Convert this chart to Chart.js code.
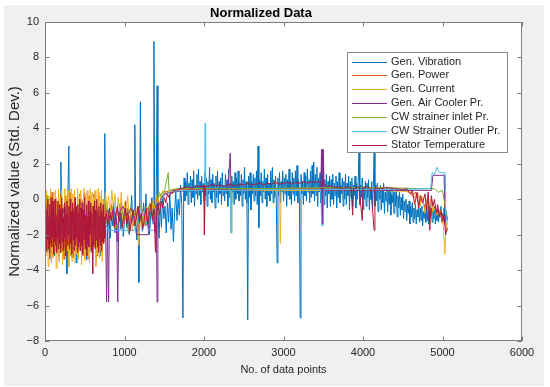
<!DOCTYPE html>
<html>
<head>
<meta charset="utf-8">
<title>Normalized Data</title>
<script src="https://cdn.jsdelivr.net/npm/chart.js@4/dist/chart.umd.min.js"></script>
<style>
  html, body { margin: 0; padding: 0; background: #fff; }
  #wrap { width: 550px; height: 387px; }
</style>
</head>
<body>
<div id="wrap"><canvas id="chart" width="550" height="387"></canvas></div>
<script>
// [data point no., normalized value]
const vibration = [
  [0,-2.2],[15,-0.5],[30,-3.0],[45,-1.0],[60,-3.4],[75,-0.3],[90,-2.6],[105,-1.4],[120,-3.2],[135,-0.6],
  [150,-2.8],[165,-1.1],[180,-3.5],[195,-0.2],[200,2.1],[210,-1.8],[225,-3.0],[240,-0.7],[255,-2.5],[270,-1.2],
  [275,-4.2],[285,-0.4],[300,3.0],[310,-2.9],[325,-1.0],[340,-3.3],[355,-0.5],[370,-2.4],[385,-1.3],[400,-3.6],
  [415,-0.8],[430,-2.7],[445,-1.5],[460,-3.1],[475,-0.3],[490,-2.2],[505,-1.1],[520,-3.4],[535,-0.6],[550,-2.6],
  [565,-1.7],[580,-3.0],[595,-0.4],[610,-2.3],[625,-1.2],[640,-3.5],[655,-0.7],[670,-2.8],[685,-1.4],[700,-3.2],
  [715,-0.5],[730,-2.1],[745,-0.9],[752,3.7],[760,-1.6],[775,-0.4],[790,-1.8],[805,-0.6],[820,-2.2],[835,-0.9],
  [850,-1.5],[865,-0.2],[880,-1.9],[895,-0.8],[910,-2.4],[925,-1.0],[940,-0.3],[955,-1.7],[970,-0.7],[985,-2.1],
  [1000,-1.2],[1015,-0.1],[1030,-1.6],[1045,-0.5],[1060,-2.0],[1075,-0.9],[1090,0.2],[1105,-1.4],[1120,-0.6],[1130,4.2],
  [1140,-1.1],[1155,-2.3],[1170,-0.4],[1180,-4.7],[1190,-1.0],[1200,5.5],[1210,-0.7],[1225,-1.8],[1240,-0.2],[1255,-1.3],
  [1270,0.3],[1285,-1.5],[1300,-0.5],[1315,-2.0],[1330,-0.8],[1345,0.1],[1360,-1.4],[1370,8.9],[1380,-0.9],[1395,-1.9],
  [1410,6.4],[1420,-0.6],[1435,-2.2],[1450,-0.3],[1465,-1.6],[1480,0.2],[1495,-1.1],[1510,-0.4],[1525,-1.9],[1540,-0.2],
  [1555,-1.3],[1570,0.3],[1585,-1.7],[1600,-0.5],[1615,-2.4],[1630,-0.7],[1645,0.4],[1660,-1.2],[1675,0.0],[1690,-0.9],
  [1705,0.8],[1720,-0.3],[1735,-6.7],[1745,0.5],
  [1750,1.2],[1760,-0.1],[1770,1.0],[1780,0.2],[1790,1.5],[1800,-0.3],[1810,0.9],[1820,0.4],[1830,1.3],[1840,-0.2],
  [1850,1.1],[1860,0.1],[1870,1.6],[1880,-0.4],[1890,0.8],[1900,0.3],[1910,1.4],[1920,0.0],[1930,1.7],[1940,0.2],
  [1950,1.0],[1960,-0.3],[1970,1.3],[1980,0.4],[1990,0.9],[2000,-0.1],[2010,1.5],[2020,0.2],[2030,1.2],[2040,-0.4],
  [2050,1.0],[2060,0.3],[2070,1.8],[2080,0.0],[2090,1.1],[2100,-0.2],[2110,1.4],[2120,0.4],[2130,0.9],[2140,-0.5],
  [2150,1.3],[2160,0.1],[2170,1.6],[2180,-0.2],[2190,1.0],[2200,0.3],[2210,1.2],[2220,-0.3],[2230,1.5],[2240,0.2],
  [2250,0.8],[2260,-0.1],[2270,1.4],[2280,0.3],[2290,1.1],[2300,-0.4],[2310,1.7],[2320,0.1],[2330,0.9],[2340,-0.2],
  [2350,1.3],[2360,0.4],[2370,1.0],[2380,-0.3],[2390,1.5],[2400,0.0],[2410,1.2],[2420,0.3],[2430,1.6],[2440,-0.1],
  [2450,0.9],[2460,0.2],[2470,1.4],[2480,-0.4],[2490,1.1],[2500,0.3],[2510,1.8],[2520,0.0],[2530,1.0],[2540,-0.2],
  [2550,-6.8],[2560,1.3],[2570,0.1],[2580,1.5],[2590,-0.6],[2600,1.0],[2610,0.3],[2620,1.4],[2630,-0.1],[2640,1.2],
  [2650,0.2],[2660,1.6],[2670,-0.3],[2680,3.0],[2690,-1.6],[2700,1.1],[2710,0.2],[2720,1.5],[2730,-0.2],[2740,1.0],
  [2750,0.4],[2760,1.7],[2770,0.0],[2780,1.2],[2790,-0.4],[2800,1.4],[2810,0.2],[2820,0.9],[2830,-0.1],[2840,1.6],
  [2850,0.3],[2860,1.8],[2870,-0.2],[2880,1.1],[2890,0.1],[2900,1.3],[2910,-0.3],[2920,-3.6],[2930,1.2],[2940,0.2],
  [2950,1.5],[2960,-0.2],[2970,1.0],[2980,0.4],[2990,1.6],[3000,-0.1],[3010,1.2],[3020,0.3],[3030,1.4],[3040,-0.4],
  [3050,1.1],[3060,0.2],[3070,1.7],[3080,0.0],[3090,1.0],[3100,-0.3],[3110,1.5],[3120,0.3],[3130,1.2],[3140,-0.1],
  [3150,1.6],[3160,0.2],[3170,1.9],[3180,-0.2],[3190,1.1],[3200,0.1],[3210,-6.7],[3220,1.4],[3230,0.3],[3240,1.0],
  [3250,-0.3],[3260,1.5],[3270,0.2],[3280,1.3],[3290,-0.1],[3300,1.7],[3310,0.4],[3320,1.1],[3330,-0.2],[3340,1.6],
  [3350,0.1],[3360,1.9],[3370,0.3],[3380,2.1],[3390,-0.1],[3400,1.4],[3410,0.2],[3420,1.8],[3430,-0.4],[3440,1.2],
  [3450,0.4],[3460,1.5],[3470,-0.2],[3480,1.3],[3490,0.1],[3500,1.6],[3510,-0.3],[3520,1.1],[3530,0.2],[3540,1.4],
  [3550,-0.5],[3560,1.0],[3570,0.3],[3580,1.3],[3590,-0.4],[3600,1.1],[3610,0.0],[3620,1.4],[3630,-0.3],[3640,0.9],
  [3650,0.2],[3660,1.3],[3670,-0.5],[3680,1.0],[3690,0.1],[3700,1.5],[3710,-0.2],[3720,0.8],[3730,0.3],[3740,1.2],
  [3750,-0.4],[3760,1.0],[3770,0.0],[3780,1.4],[3790,-0.3],[3800,0.9],[3810,0.2],[3820,1.3],[3830,-0.6],[3840,1.0],
  [3850,0.1],[3860,1.2],[3870,-0.4],[3880,0.8],[3890,0.2],[3900,1.3],[3910,-0.5],[3920,0.9],[3930,0.0],[3940,1.1],
  [3950,2.7],[3960,-0.3],[3970,0.8],[3980,0.1],[3990,1.2],[4000,-0.6],[4010,0.7],[4020,0.0],[4030,1.0],[4040,-0.4],
  [4050,0.9],[4060,0.1],[4070,1.1],[4080,-0.6],[4090,0.6],[4100,0.0],[4110,1.0],[4120,-0.5],[4130,0.7],[4140,2.7],
  [4150,-0.4],[4160,0.8],[4170,-0.1],[4180,0.9],[4190,-0.7],[4200,0.5],[4210,0.0],[4220,0.8],[4230,-0.6],[4240,0.6],
  [4250,-0.2],[4260,0.9],[4270,-0.8],[4280,0.4],[4290,-0.1],[4300,0.7],[4310,-0.7],[4320,0.5],[4330,-0.3],[4340,0.6],
  [4350,-0.9],[4360,0.3],[4370,-0.2],[4380,0.5],[4390,-0.8],[4400,0.4],[4410,-0.4],[4420,0.6],[4430,-1.0],[4440,0.2],
  [4450,-0.5],[4460,0.4],[4470,-0.9],[4480,0.1],[4490,-0.6],[4500,0.3],[4510,-1.1],[4520,-0.1],[4530,-0.7],[4540,0.0],
  [4550,-1.2],[4560,-0.3],[4570,-0.8],[4580,-0.1],[4590,-1.4],[4600,-0.4],[4610,-1.0],[4620,-0.2],[4630,-1.3],[4640,-0.5],
  [4650,-1.1],[4660,-0.3],[4670,-1.4],[4680,-0.6],[4690,-1.0],[4700,-0.2],[4710,-1.3],[4720,-0.5],[4730,-1.2],[4740,-0.4],
  [4750,-1.5],[4760,-0.7],[4770,-1.1],[4780,-0.3],[4790,-1.3],[4800,-0.6],[4810,-1.2],[4820,-0.4],[4830,-1.4],[4840,-0.7],
  [4850,-1.0],[4860,-0.5],[4870,-1.3],[4880,-0.6],[4890,-1.1],[4900,-0.4],[4910,-1.4],[4920,-0.8],[4930,-1.2],[4940,-0.5],
  [4950,-1.3],[4960,-0.7],[4970,-1.0],[4980,-0.4],[4990,-1.3],[5000,-0.8],[5010,-1.2],[5020,-0.5],[5030,-1.4],[5040,-0.9],
  [5050,-1.2],[5060,-1.0]
];

const power = [
  [0,-0.5],[15,-3.0],[30,0.2],[45,-2.4],[60,-0.3],[75,-3.3],[90,0.4],[105,-1.8],[120,-3.1],[135,0.1],
  [150,-2.7],[165,-0.6],[180,-3.2],[195,0.3],[210,-2.2],[225,-0.8],[240,-3.4],[255,0.2],[270,-2.6],[285,-0.2],
  [300,-3.0],[315,0.4],[330,-2.3],[345,-0.7],[360,-3.3],[375,0.1],[390,-2.8],[405,-0.4],[420,-3.1],[435,0.3],
  [450,-2.5],[465,-0.1],[480,-3.2],[495,0.4],[510,-2.1],[525,-0.9],[540,-3.4],[555,0.2],[570,-2.7],[585,-0.5],
  [600,-3.0],[615,0.3],[630,-2.4],[645,-0.2],[660,-3.2],[675,0.4],[690,-2.6],[705,-0.6],[720,-3.0],[735,0.0],
  [750,-1.8],[780,-0.5],[810,-1.3],[840,-0.3],[870,-1.6],[900,-0.6],[930,-1.1],[960,-0.2],[990,-1.4],[1020,-0.7],
  [1050,-1.9],[1080,-0.9],[1110,-1.5],[1140,-0.5],[1170,-1.7],[1200,-1.2],[1230,-0.6],[1260,-1.5],[1290,-0.8],[1320,-0.2],
  [1350,-1.0],[1380,-0.4],[1410,0.1],[1440,-0.3],[1470,0.3],[1500,0.4],[1600,0.5],[1800,0.55],[2200,0.55],[2600,0.6],
  [3000,0.6],[3400,0.6],[3800,0.55],[4200,0.55],[4550,0.5],[4620,0.2],[4660,0.4],[4700,-0.3],[4740,0.1],[4780,-0.5],
  [4820,-0.2],[4860,-0.8],[4900,-0.4],[4940,-0.9],[4980,-0.6],[5010,-1.2],[5040,-1.6],[5060,-1.4]
];

const current = [
  [0,0.3],[10,-3.2],[20,0.5],[30,-2.0],[40,-3.8],[50,0.2],[60,-3.0],[70,0.6],[80,-3.6],[90,-0.5],
  [100,-3.3],[110,0.4],[120,-2.6],[130,0.5],[140,-3.9],[150,-0.2],[160,-3.1],[170,0.6],[180,-3.5],[190,0.1],
  [200,-2.8],[210,0.5],[220,-3.7],[230,-0.3],[240,-3.0],[250,0.6],[260,-3.4],[270,0.2],[280,-2.9],[290,0.5],
  [300,-3.8],[310,-0.1],[320,-3.2],[330,0.6],[340,-3.5],[350,0.3],[360,-2.7],[370,0.5],[380,-3.6],[390,-0.4],
  [400,-3.1],[410,0.6],[420,-3.4],[430,0.2],[440,-2.9],[450,0.5],[460,-3.7],[470,0.0],[480,-3.0],[490,0.6],
  [500,-3.5],[510,0.3],[520,-2.8],[530,0.5],[540,-3.3],[550,-0.2],[560,-3.6],[570,0.6],[580,-3.0],[590,0.4],
  [600,-3.4],[610,0.1],[620,-2.7],[630,0.5],[640,-3.8],[650,-0.3],[660,-3.1],[670,0.6],[680,-3.3],[690,0.2],
  [700,-2.9],[710,0.5],[720,-3.5],[730,0.0],[740,-2.4],[760,0.4],[780,-0.6],[800,0.2],[820,-1.0],[840,0.5],
  [860,-0.4],[880,0.3],[900,-1.2],[920,0.1],[940,-0.7],[960,0.4],[980,-1.5],[1000,-0.2],[1020,-0.9],[1040,0.2],
  [1060,-1.3],[1080,-0.5],[1100,-1.8],[1120,-0.8],[1140,-1.4],[1160,-0.6],[1180,-2.6],[1200,-1.0],[1220,-1.6],[1240,-0.7],
  [1260,-1.3],[1280,-0.4],[1300,-1.1],[1320,-0.3],[1340,-0.9],[1360,-0.1],[1380,-0.6],[1400,0.2],[1420,-0.3],[1440,0.4],
  [1460,0.1],[1480,0.5],[1500,0.3],[1550,0.4],[1600,0.5],[1650,0.45],[1700,0.5],[2000,0.5],[2500,0.5],[2950,0.5],
  [2960,-2.5],[2970,0.5],[3400,0.5],[3800,0.5],[4200,0.5],[4500,0.45],[4600,0.4],[4650,0.1],[4700,0.3],[4720,-0.4],
  [4740,0.2],[4780,-0.8],[4800,0.0],[4830,-0.4],[4860,0.1],[4880,-0.7],[4900,-0.5],[4930,-0.9],[4960,-0.6],[4990,-1.1],
  [5010,-1.5],[5030,-3.1],[5045,-1.3],[5060,-1.8]
];

const airCooler = [
  [0,-1.0],[50,-1.8],[100,-0.6],[150,-2.0],[200,-1.2],[250,-0.4],[300,-1.9],[350,-0.8],[400,-1.5],[450,-0.5],
  [500,-2.1],[550,-1.0],[600,-1.6],[650,-0.6],[700,-1.4],[760,-1.0],[775,-5.8],[785,-1.2],[800,-5.8],[810,-1.0],
  [860,-0.6],[900,-1.1],[915,-5.8],[930,-0.8],[980,-0.4],[1030,-0.9],[1080,-0.5],[1130,-1.0],[1150,-2.0],[1300,-2.0],
  [1310,-0.7],[1360,-0.9],[1400,-0.3],[1410,-5.8],[1420,-0.5],[1460,0.0],[1500,0.3],[1600,0.4],[1800,0.5],[2300,0.55],
  [2330,2.6],[2340,0.5],[2800,0.55],[3470,0.55],[3478,2.8],[3482,-1.4],[3486,2.8],[3490,-1.4],[3494,2.8],[3498,-1.4],
  [3502,2.8],[3510,0.5],[3900,0.5],[4400,0.5],[4700,0.5],[4860,0.5],[4880,1.35],[5020,1.35],[5030,-0.5],[5060,-1.2]
];

const inletPr = [
  [0,-1.2],[60,-2.0],[120,-0.8],[180,-1.7],[240,-1.0],[300,-2.2],[360,-0.9],[420,-1.6],[480,-0.7],[540,-1.9],
  [600,-1.1],[660,-1.5],[720,-0.8],[780,-1.4],[840,-0.9],[900,-1.6],[960,-0.7],[1020,-1.2],[1080,-0.6],[1140,-1.0],
  [1200,-0.4],[1260,-0.8],[1320,-0.3],[1380,-0.1],[1440,0.2],[1500,0.4],[1550,1.5],[1560,0.5],[1650,0.6],[1800,0.6],
  [2200,0.6],[2330,0.6],[2340,-1.9],[2350,0.6],[2800,0.6],[3300,0.65],[3800,0.65],[4300,0.65],[4700,0.6],[4900,0.6],
  [4950,0.4],[5000,0.5],[5030,-0.3],[5060,-1.0]
];

const outletPr = [
  [0,-1.5],[40,-2.1],[80,-0.9],[120,-2.3],[160,-1.2],[200,-2.0],[240,-0.8],[280,-1.8],[320,-1.1],[360,-2.2],
  [400,-1.0],[440,-1.7],[480,-0.7],[520,-2.1],[560,-1.3],[600,-1.9],[640,-0.9],[680,-1.6],[720,-1.0],[760,-1.4],
  [800,-1.75],[1130,-1.75],[1140,-0.9],[1180,-1.3],[1220,-0.7],[1260,-1.1],[1300,-1.75],[1380,-1.75],[1390,-0.5],[1440,-0.2],
  [1500,0.2],[1600,0.45],[1800,0.5],[2010,0.5],[2015,4.3],[2020,0.5],[2330,0.5],[2340,-1.9],[2350,0.5],[2800,0.55],
  [3470,0.55],[3480,-1.5],[3500,-1.5],[3510,0.55],[4000,0.55],[4500,0.55],[4850,0.6],[4870,1.5],[4900,1.4],[4930,1.8],
  [4960,1.5],[5030,1.5],[5040,-0.8],[5060,-1.4]
];

const statorTemp = [
  [0,-1.2],[6,-2.6],[12,-0.2],[18,-2.9],[24,-0.6],[30,-2.3],[36,0.0],[42,-2.8],[48,-1.0],[54,-3.0],
  [60,-0.3],[66,-2.5],[72,-1.5],[78,0.1],[84,-2.7],[90,-0.5],[96,-2.1],[102,-0.1],[108,-3.1],[114,-1.1],
  [120,-2.4],[126,0.0],[132,-2.6],[138,-0.7],[144,-3.0],[150,-0.9],[156,-2.2],[162,-0.1],[168,-2.8],[174,-1.4],
  [180,-0.3],[186,-2.5],[192,-0.6],[198,-3.0],[204,-1.2],[210,0.1],[216,-2.4],[222,-0.5],[228,-2.9],[234,-1.0],
  [240,-2.2],[246,-0.2],[252,-2.7],[258,-0.8],[264,-3.2],[270,-1.3],[276,-0.1],[282,-2.6],[288,-0.9],[294,-2.0],
  [300,-0.4],[306,-2.8],[312,-1.1],[318,0.0],[324,-2.5],[330,-0.7],[336,-3.1],[342,-1.4],[348,-0.2],[354,-2.3],
  [360,-0.6],[366,-2.9],[372,-1.0],[378,0.1],[384,-2.6],[390,-0.4],[396,-2.2],[402,-1.2],[408,-3.0],[414,-0.3],
  [420,-2.7],[426,-0.8],[432,-2.4],[438,0.0],[444,-2.9],[450,-1.1],[456,-0.5],[462,-2.6],[468,-0.2],[474,-3.1],
  [480,-1.3],[486,-0.6],[492,-2.3],[498,0.1],[504,-2.8],[510,-0.9],[516,-2.1],[522,-0.3],[528,-3.2],[534,-1.0],
  [540,-2.5],[546,-0.1],[552,-2.7],[558,-0.7],[564,-2.0],[570,-1.5],[576,-0.2],[582,-2.9],[588,-0.8],[594,-2.4],
  [600,-4.2],[606,-0.4],[612,-2.6],[618,-1.1],[624,-0.1],[630,-2.8],[636,-0.6],[642,-2.3],[648,-1.3],[654,0.0],
  [660,-2.7],[666,-0.9],[672,-3.0],[678,-0.4],[684,-2.2],[690,-1.0],[696,-2.6],[702,-0.2],[708,-2.9],[714,-0.7],
  [720,-2.4],[726,-1.2],[732,-0.3],[738,-2.5],[744,-1.0],[750,-2.2],[756,-1.2],
  [770,-0.8],[790,-1.4],[810,-0.5],[830,-1.2],[850,-0.7],[870,-1.5],
  [890,-0.9],[910,-0.4],[930,-1.3],[950,-0.8],[970,-1.6],[990,-1.0],[1010,-0.5],[1030,-1.4],[1050,-0.9],[1070,-1.8],
  [1090,-1.1],[1110,-0.6],[1130,-1.5],[1150,-1.0],[1170,-0.4],[1190,-1.3],[1210,-0.8],[1230,-1.7],[1250,-1.1],[1270,-0.5],
  [1290,-1.4],[1310,-0.9],[1330,-0.3],[1350,-1.2],[1370,-0.6],[1390,-3.0],[1400,-0.7],[1420,-0.2],[1440,-0.9],[1460,-0.1],
  [1480,-0.5],[1500,0.1],[1520,-0.2],[1540,0.3],[1560,0.1],[1580,0.4],[1600,0.3],[1620,0.5],[1650,0.5],[1700,0.6],
  [1750,0.65],[1800,0.7],[1850,0.6],[1900,0.75],[1950,0.7],[2000,0.8],[2005,-2.0],[2015,0.75],[2050,0.7],[2100,0.85],
  [2150,0.75],[2200,0.8],[2250,0.7],[2300,0.85],[2350,0.8],[2400,0.75],[2450,0.85],[2500,0.8],[2550,0.9],[2600,0.8],
  [2650,0.85],[2700,0.9],[2750,0.8],[2800,0.9],[2850,0.85],[2900,0.95],[2950,0.85],[3000,0.9],[3050,0.95],[3100,0.85],
  [3150,0.95],[3200,0.9],[3250,1.0],[3300,0.9],[3350,1.0],[3400,0.95],[3450,1.0],[3500,0.9],[3550,0.7],[3600,0.75],
  [3650,0.65],[3700,0.7],[3750,0.6],[3800,0.7],[3850,0.65],[3870,-0.9],[3880,0.6],[3950,0.7],[3990,-1.2],[4000,0.65],
  [4050,0.7],[4100,0.6],[4140,-1.75],[4150,0.65],[4200,0.6],[4300,0.65],[4400,0.6],[4500,0.55],[4550,0.6],[4600,0.3],
  [4620,0.5],[4650,-0.3],[4680,0.4],[4700,-0.5],[4720,0.2],[4750,-0.2],[4780,0.3],[4800,-0.6],[4820,0.4],[4840,-1.75],
  [4860,0.2],[4880,-0.4],[4900,0.0],[4920,-0.8],[4940,-0.3],[4960,-1.0],[4980,-0.7],[5000,-1.2],[5020,-0.9],[5040,-2.0],
  [5060,-1.6]
];

const seriesNames = ['Gen. Vibration', 'Gen. Power', 'Gen. Current', 'Gen. Air Cooler Pr.',
  'CW strainer inlet Pr.', 'CW Strainer Outler Pr.', 'Stator Temperature'];
const seriesData = [vibration, power, current, airCooler, inletPr, outletPr, statorTemp];
const seriesColors = ['#0072BD', '#D95319', '#EDB120', '#7E2F8E', '#77AC30', '#4DBEEE', '#B0173A'];

const xTicks = [0, 1000, 2000, 3000, 4000, 5000, 6000];
const yTicks = [-8, -6, -4, -2, 0, 2, 4, 6, 8, 10];

(function () {
  const FONT = "'Liberation Sans', Arial, Helvetica, sans-serif";
  const TEXT = '#262626';
  const AXIS = '#7d7d7d';

  const minus = v => String(v).replace('-', '\u2212');

  // grey figure background, white axes
  const figureBg = {
    id: 'figureBg',
    beforeDraw (chart) {
      const { ctx, width, height, chartArea: a } = chart;
      ctx.save();
      ctx.fillStyle = '#ffffff';
      ctx.fillRect(0, 0, width, height);
      ctx.fillStyle = '#f0f0f0';
      ctx.fillRect(4, 5, width - 10, height - 6);
      ctx.fillStyle = '#ffffff';
      ctx.fillRect(a.left, a.top, a.right - a.left, a.bottom - a.top);
      ctx.restore();
    }
  };

  // box + inward ticks on all four sides, like MATLAB "box on"
  const axesBox = {
    id: 'axesBox',
    afterDatasetsDraw (chart) {
      const { ctx, chartArea: a, scales } = chart;
      const len = 4.5;
      ctx.save();
      ctx.strokeStyle = AXIS;
      ctx.lineWidth = 1;
      ctx.strokeRect(a.left + 0.5, a.top + 0.5, a.right - a.left - 1, a.bottom - a.top - 1);
      ctx.beginPath();
      xTicks.forEach(v => {
        const px = Math.round(scales.x.getPixelForValue(v)) + 0.5;
        ctx.moveTo(px, a.bottom); ctx.lineTo(px, a.bottom - len);
        ctx.moveTo(px, a.top); ctx.lineTo(px, a.top + len);
      });
      yTicks.forEach(v => {
        const py = Math.round(scales.y.getPixelForValue(v)) + 0.5;
        ctx.moveTo(a.left, py); ctx.lineTo(a.left + len, py);
        ctx.moveTo(a.right, py); ctx.lineTo(a.right - len, py);
      });
      ctx.stroke();
      ctx.restore();
    }
  };

  // legend box in the upper right of the axes
  const legendBox = {
    id: 'legendBox',
    afterDraw (chart) {
      const { ctx, chartArea: a } = chart;
      const left = a.right - 175;
      const top = a.top + 30;
      const w = 160;
      const h = 100;
      const rowH = 13.9;
      ctx.save();
      ctx.fillStyle = '#ffffff';
      ctx.fillRect(left, top, w, h);
      ctx.strokeStyle = '#8a8a8a';
      ctx.lineWidth = 1;
      ctx.strokeRect(left + 0.5, top + 0.5, w, h);
      ctx.font = '11px ' + FONT;
      ctx.textBaseline = 'middle';
      seriesNames.forEach((name, i) => {
        const y = top + 9.5 + i * rowH;
        ctx.strokeStyle = seriesColors[i];
        ctx.lineWidth = 1;
        ctx.beginPath();
        ctx.moveTo(left + 5, Math.round(y) + 0.5);
        ctx.lineTo(left + 40, Math.round(y) + 0.5);
        ctx.stroke();
        ctx.fillStyle = TEXT;
        ctx.fillText(name, left + 44, y);
      });
      ctx.restore();
    }
  };

  const datasets = seriesData.map((pts, i) => ({
    label: seriesNames[i],
    data: pts.map(p => ({ x: p[0], y: p[1] })),
    borderColor: seriesColors[i],
    backgroundColor: seriesColors[i],
    borderWidth: 1,
    pointRadius: 0,
    fill: false,
    tension: 0,
    order: seriesData.length - i
  }));

  new Chart(document.getElementById('chart'), {
    type: 'line',
    data: { datasets },
    options: {
      responsive: false,
      animation: false,
      events: [],
      layout: { padding: { left: 0, right: 28, top: 0, bottom: 0 } },
      plugins: {
        legend: { display: false },
        tooltip: { enabled: false },
        title: {
          display: true,
          text: 'Normalized Data',
          color: '#000',
          font: { family: FONT, size: 13, weight: 'bold' },
          padding: { top: 6, bottom: 0.4 }
        }
      },
      scales: {
        x: {
          type: 'linear',
          min: 0,
          max: 6000,
          afterFit (scale) { scale.height = 46; },
          afterBuildTicks (scale) { scale.ticks = xTicks.map(v => ({ value: v })); },
          grid: { display: false, drawTicks: false },
          border: { display: false },
          ticks: { color: TEXT, padding: 5, maxRotation: 0, callback: v => String(v), font: { family: FONT, size: 11 } },
          title: {
            display: true,
            text: 'No. of data points',
            color: TEXT,
            font: { family: FONT, size: 11 },
            padding: { top: 0, bottom: 10 }
          }
        },
        y: {
          type: 'linear',
          min: -8,
          max: 10,
          afterFit (scale) { scale.width = 45; },
          afterBuildTicks (scale) { scale.ticks = yTicks.map(v => ({ value: v })); },
          grid: { display: false, drawTicks: false },
          border: { display: false },
          ticks: { color: TEXT, padding: 6, callback: v => minus(v), font: { family: FONT, size: 11 } },
          title: {
            display: true,
            text: 'Normalized value (Std. Dev.)',
            color: TEXT,
            font: { family: FONT, size: 15 },
            padding: { top: 6, bottom: 0 }
          }
        }
      }
    },
    plugins: [figureBg, axesBox, legendBox]
  });
})();
</script>
</body>
</html>
